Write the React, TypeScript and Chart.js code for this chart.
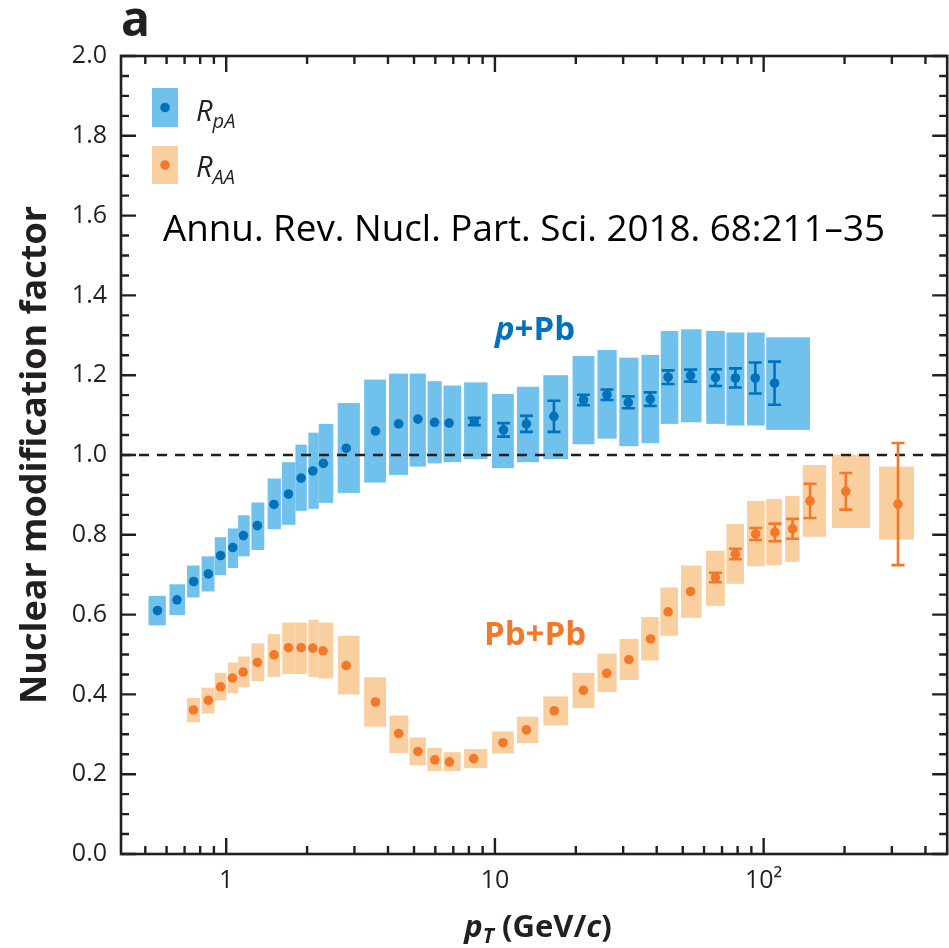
import React, { useEffect, useRef } from 'react';
import { Chart, registerables } from 'chart.js';

Chart.register(...registerables);

// ---------------- data: p+Pb  (R_pA) ----------------
const pPbPt = [0.555, 0.656, 0.757, 0.858, 0.953, 1.058, 1.159, 1.306, 1.506, 1.705, 1.900, 2.100, 2.299, 2.797, 3.594, 4.384, 5.168, 5.962, 6.754, 8.381, 10.76, 13.09, 16.58, 21.36, 26.12, 31.36, 37.84, 44.10, 53.46, 66.19, 78.50, 93.08, 109.8];
const pPbBinLo = [0.514, 0.615, 0.715, 0.810, 0.907, 1.014, 1.108, 1.241, 1.426, 1.612, 1.810, 2.022, 2.211, 2.599, 3.261, 4.036, 4.816, 5.615, 6.434, 7.678, 9.748, 12.07, 15.14, 19.45, 24.07, 29.04, 35.12, 41.40, 49.27, 61.14, 72.68, 86.74, 102.2];
const pPbBinHi = [0.596, 0.703, 0.796, 0.905, 1.000, 1.108, 1.223, 1.386, 1.598, 1.810, 1.995, 2.211, 2.503, 3.144, 3.934, 4.747, 5.534, 6.341, 7.484, 9.389, 11.76, 14.59, 18.73, 23.46, 28.38, 34.22, 40.84, 48.15, 58.73, 71.70, 84.77, 100.9, 148.8];
const pPbValue = [0.610, 0.637, 0.683, 0.702, 0.748, 0.768, 0.798, 0.823, 0.876, 0.902, 0.942, 0.960, 0.979, 1.017, 1.060, 1.078, 1.090, 1.082, 1.080, 1.084, 1.063, 1.078, 1.097, 1.138, 1.151, 1.132, 1.140, 1.195, 1.199, 1.194, 1.193, 1.193, 1.180];
const pPbSystHi = [0.647, 0.676, 0.723, 0.746, 0.794, 0.816, 0.849, 0.881, 0.941, 0.982, 1.026, 1.056, 1.078, 1.130, 1.189, 1.204, 1.204, 1.185, 1.174, 1.182, 1.153, 1.171, 1.200, 1.248, 1.263, 1.244, 1.251, 1.311, 1.315, 1.311, 1.307, 1.307, 1.295];
const pPbSystLo = [0.573, 0.599, 0.643, 0.658, 0.699, 0.717, 0.746, 0.762, 0.814, 0.825, 0.860, 0.865, 0.880, 0.905, 0.931, 0.950, 0.971, 0.979, 0.982, 0.990, 0.967, 0.982, 0.990, 1.027, 1.041, 1.022, 1.030, 1.078, 1.082, 1.078, 1.074, 1.074, 1.063];
const pPbStat = [0, 0, 0, 0, 0, 0, 0, 0, 0, 0, 0, 0, 0, 0, 0, 0, 0, 0, 0, 0.009, 0.017, 0.020, 0.039, 0.013, 0.013, 0.015, 0.017, 0.017, 0.015, 0.021, 0.024, 0.039, 0.054];

// ---------------- data: Pb+Pb (R_AA) ----------------
const PbPbPt = [0.755, 0.858, 0.953, 1.055, 1.156, 1.306, 1.506, 1.705, 1.900, 2.100, 2.293, 2.797, 3.594, 4.384, 5.168, 5.977, 6.771, 8.331, 10.71, 13.09, 16.62, 21.36, 26.06, 31.52, 37.93, 44.10, 53.46, 66.19, 78.50, 93.40, 110.1, 128.1, 148.8, 202.2, 316.2];
const PbPbBinLo = [0.715, 0.810, 0.907, 1.014, 1.108, 1.241, 1.426, 1.616, 1.810, 2.022, 2.203, 2.606, 3.261, 4.050, 4.816, 5.600, 6.434, 7.678, 9.748, 12.07, 15.14, 19.45, 24.07, 29.12, 35.03, 41.29, 49.27, 60.99, 72.68, 86.74, 102.2, 120.2, 139.8, 179.6, 268.9];
const PbPbBinHi = [0.798, 0.905, 1.003, 1.108, 1.223, 1.386, 1.589, 1.810, 1.995, 2.203, 2.503, 3.136, 3.934, 4.762, 5.534, 6.341, 7.458, 9.365, 11.76, 14.51, 18.73, 23.46, 28.38, 34.22, 40.70, 48.03, 58.73, 71.70, 84.53, 100.9, 116.9, 135.9, 170.6, 249.0, 362.5];
const PbPbValue = [0.361, 0.385, 0.419, 0.441, 0.456, 0.480, 0.499, 0.517, 0.517, 0.516, 0.509, 0.472, 0.381, 0.302, 0.257, 0.236, 0.231, 0.239, 0.279, 0.311, 0.359, 0.410, 0.453, 0.487, 0.539, 0.607, 0.658, 0.693, 0.752, 0.802, 0.806, 0.815, 0.885, 0.909, 0.877];
const PbPbSystHi = [0.391, 0.417, 0.454, 0.480, 0.495, 0.528, 0.551, 0.580, 0.580, 0.587, 0.580, 0.547, 0.443, 0.347, 0.292, 0.266, 0.255, 0.263, 0.307, 0.344, 0.395, 0.454, 0.502, 0.539, 0.594, 0.668, 0.723, 0.760, 0.827, 0.885, 0.890, 0.897, 0.975, 1.001, 0.971];
const PbPbSystLo = [0.330, 0.352, 0.385, 0.403, 0.418, 0.433, 0.444, 0.451, 0.451, 0.444, 0.440, 0.400, 0.319, 0.253, 0.222, 0.208, 0.208, 0.215, 0.252, 0.278, 0.322, 0.366, 0.406, 0.436, 0.485, 0.547, 0.592, 0.622, 0.677, 0.721, 0.724, 0.732, 0.795, 0.817, 0.788];
const PbPbStat = [0, 0, 0, 0, 0, 0, 0, 0, 0, 0, 0, 0, 0, 0, 0, 0, 0, 0, 0, 0, 0, 0, 0, 0, 0, 0, 0, 0.012, 0.013, 0.015, 0.022, 0.025, 0.043, 0.046, 0.153];

// ---------------- axes ----------------
const xTickValues = [1, 10, 100];
const xTickLabels = ['1', '10', '10²'];
const xMinorTicks = [0.5, 0.6, 0.7, 0.8, 0.9, 2, 3, 4, 5, 6, 7, 8, 9, 20, 30, 40, 50, 60, 70, 80, 90, 200, 300, 400];
const yMajorStep = 0.2;
const yMinorStep = 0.05;
const X_MIN = 0.406;
const X_MAX = 482;
const Y_MIN = 0;
const Y_MAX = 2;
const REF_LINE = 1.0;

// ---------------- styles ----------------
const FONT = '"Open Sans", "Noto Sans", sans-serif';
const INK = '#231f20';
const BLUE_BOX = 'rgb(112,193,235)';
const BLUE_DOT = 'rgb(0,114,188)';
const ORANGE_BOX = 'rgb(250,207,160)';
const ORANGE_DOT = 'rgb(242,121,42)';

type Run = { t: string; f: string; dy?: number };

function drawRuns(ctx: CanvasRenderingContext2D, runs: Run[], x: number, y: number, align: 'left' | 'center') {
  let w = 0;
  for (const r of runs) {
    ctx.font = r.f;
    w += ctx.measureText(r.t).width;
  }
  let cx = align === 'center' ? x - w / 2 : x;
  for (const r of runs) {
    ctx.font = r.f;
    ctx.fillText(r.t, cx, y + (r.dy || 0));
    cx += ctx.measureText(r.t).width;
  }
}

const figurePlugin = {
  id: 'figure',
  beforeDatasetsDraw(chart: any) {
    const { ctx, chartArea: a, scales } = chart;
    const xs = scales.x;
    const ys = scales.y;
    ctx.save();
    ctx.beginPath();
    ctx.rect(a.left, a.top, a.right - a.left, a.bottom - a.top);
    ctx.clip();

    const drawBoxes = (lo: number[], hi: number[], top: number[], bot: number[], color: string) => {
      ctx.fillStyle = color;
      for (let i = 0; i < lo.length; i++) {
        const x0 = xs.getPixelForValue(lo[i]);
        const x1 = xs.getPixelForValue(hi[i]);
        const y0 = ys.getPixelForValue(top[i]);
        const y1 = ys.getPixelForValue(bot[i]);
        ctx.fillRect(x0, y0, x1 - x0, y1 - y0);
      }
    };
    drawBoxes(PbPbBinLo, PbPbBinHi, PbPbSystHi, PbPbSystLo, ORANGE_BOX);
    drawBoxes(pPbBinLo, pPbBinHi, pPbSystHi, pPbSystLo, BLUE_BOX);

    // reference line
    ctx.strokeStyle = INK;
    ctx.lineWidth = 2.6;
    ctx.setLineDash([10, 8]);
    const yr = ys.getPixelForValue(REF_LINE);
    ctx.beginPath();
    ctx.moveTo(a.left, yr);
    ctx.lineTo(a.right, yr);
    ctx.stroke();
    ctx.setLineDash([]);

    const drawErr = (pt: number[], val: number[], err: number[], color: string) => {
      ctx.strokeStyle = color;
      ctx.lineWidth = 2.6;
      for (let i = 0; i < pt.length; i++) {
        if (!err[i]) continue;
        const px = xs.getPixelForValue(pt[i]);
        const yt = ys.getPixelForValue(val[i] + err[i]);
        const yb = ys.getPixelForValue(val[i] - err[i]);
        ctx.beginPath();
        ctx.moveTo(px, yt);
        ctx.lineTo(px, yb);
        ctx.moveTo(px - 6.5, yt);
        ctx.lineTo(px + 6.5, yt);
        ctx.moveTo(px - 6.5, yb);
        ctx.lineTo(px + 6.5, yb);
        ctx.stroke();
      }
    };
    drawErr(PbPbPt, PbPbValue, PbPbStat, ORANGE_DOT);
    drawErr(pPbPt, pPbValue, pPbStat, BLUE_DOT);
    ctx.restore();
  },
  afterDraw(chart: any) {
    const { ctx, chartArea: a, scales } = chart;
    const xs = scales.x;
    const ys = scales.y;
    ctx.save();
    ctx.strokeStyle = INK;
    ctx.lineWidth = 2.6;
    ctx.strokeRect(a.left, a.top, a.right - a.left, a.bottom - a.top);

    // ticks (inward, all four sides)
    ctx.lineWidth = 2.4;
    ctx.beginPath();
    for (let v = Y_MIN; v <= Y_MAX + 1e-9; v += yMinorStep) {
      const isMajor = Math.abs(v / yMajorStep - Math.round(v / yMajorStep)) < 1e-6;
      const len = isMajor ? 15 : 8;
      const py = ys.getPixelForValue(v);
      ctx.moveTo(a.left, py);
      ctx.lineTo(a.left + len, py);
      ctx.moveTo(a.right, py);
      ctx.lineTo(a.right - len, py);
    }
    const xt = [...xTickValues.map((v) => [v, 16]), ...xMinorTicks.map((v) => [v, 8])];
    for (const [v, len] of xt) {
      const px = xs.getPixelForValue(v);
      ctx.moveTo(px, a.bottom);
      ctx.lineTo(px, a.bottom - len);
      ctx.moveTo(px, a.top);
      ctx.lineTo(px, a.top + len);
    }
    ctx.stroke();

    // panel letter
    ctx.fillStyle = INK;
    ctx.textBaseline = 'alphabetic';
    ctx.font = `bold 48px ${FONT}`;
    ctx.fillText('a', 121, 36);

    // y title
    ctx.save();
    ctx.translate(46, 455);
    ctx.rotate(-Math.PI / 2);
    ctx.font = `bold 36px ${FONT}`;
    ctx.textAlign = 'center';
    ctx.fillText('Nuclear modification factor', 0, 0);
    ctx.restore();

    // x title
    ctx.textAlign = 'left';
    drawRuns(
      ctx,
      [
        { t: 'p', f: `italic bold 31px ${FONT}` },
        { t: 'T', f: `italic bold 21px ${FONT}`, dy: 6 },
        { t: ' (GeV/', f: `bold 31px ${FONT}` },
        { t: 'c', f: `italic bold 31px ${FONT}` },
        { t: ')', f: `bold 31px ${FONT}` },
      ],
      538,
      937,
      'center'
    );

    // legend
    const legendItems = [
      { box: BLUE_BOX, dot: BLUE_DOT, sub: 'pA', top: 88, bottom: 127, base: 121 },
      { box: ORANGE_BOX, dot: ORANGE_DOT, sub: 'AA', top: 146, bottom: 184, base: 177 },
    ];
    for (const it of legendItems) {
      ctx.fillStyle = it.box;
      ctx.fillRect(152, it.top, 26, it.bottom - it.top);
      ctx.fillStyle = it.dot;
      ctx.beginPath();
      ctx.arc(165, (it.top + it.bottom) / 2, 4.8, 0, Math.PI * 2);
      ctx.fill();
      ctx.fillStyle = INK;
      drawRuns(
        ctx,
        [
          { t: 'R', f: `italic 29px ${FONT}` },
          { t: it.sub, f: `italic 20px ${FONT}`, dy: 7 },
        ],
        196,
        it.base,
        'left'
      );
    }

    // citation
    ctx.fillStyle = '#000';
    const cite = 'Annu. Rev. Nucl. Part. Sci. 2018. 68:211–35';
    ctx.font = `31px ${FONT}`;
    const w = ctx.measureText(cite).width;
    const size = 31 * (722 / w);
    ctx.font = `${size.toFixed(2)}px ${FONT}`;
    ctx.fillText(cite, 163, 241);

    // series labels
    ctx.fillStyle = BLUE_DOT;
    drawRuns(
      ctx,
      [
        { t: 'p', f: `italic bold 33px ${FONT}` },
        { t: '+Pb', f: `bold 33px ${FONT}` },
      ],
      535,
      340,
      'center'
    );
    ctx.fillStyle = ORANGE_DOT;
    drawRuns(ctx, [{ t: 'Pb+Pb', f: `bold 33px ${FONT}` }], 535, 645, 'center');
    ctx.restore();
  },
};

export default function App() {
  const ref = useRef<HTMLCanvasElement>(null);
  useEffect(() => {
    const canvas = ref.current;
    if (!canvas) return;
    const chart = new Chart(canvas, {
      type: 'scatter',
      data: {
        datasets: [
          {
            label: 'R_AA',
            data: PbPbPt.map((x, i) => ({ x, y: PbPbValue[i] })),
            pointRadius: 4.8,
            pointBackgroundColor: ORANGE_DOT,
            pointBorderWidth: 0,
            showLine: false,
          },
          {
            label: 'R_pA',
            data: pPbPt.map((x, i) => ({ x, y: pPbValue[i] })),
            pointRadius: 4.8,
            pointBackgroundColor: BLUE_DOT,
            pointBorderWidth: 0,
            showLine: false,
          },
        ],
      },
      options: {
        responsive: false,
        maintainAspectRatio: false,
        animation: false,
        layout: { padding: { top: 56, right: 1, left: 0, bottom: 0 } },
        plugins: { legend: { display: false }, tooltip: { enabled: false }, title: { display: false } },
        scales: {
          x: {
            type: 'logarithmic',
            min: X_MIN,
            max: X_MAX,
            grid: { display: false, drawTicks: false },
            border: { display: false },
            afterFit: (s: any) => {
              s.height = 94;
            },
            afterBuildTicks: (s: any) => {
              s.ticks = xTickValues.map((v) => ({ value: v }));
            },
            ticks: {
              autoSkip: false,
              maxRotation: 0,
              padding: 12,
              color: INK,
              font: { family: FONT, size: 25 },
              callback: (v: any) => {
                const i = xTickValues.indexOf(Number(v));
                return i >= 0 ? xTickLabels[i] : '';
              },
            },
          },
          y: {
            type: 'linear',
            min: Y_MIN,
            max: Y_MAX,
            grid: { display: false, drawTicks: false },
            border: { display: false },
            afterFit: (s: any) => {
              s.width = 121;
            },
            ticks: {
              stepSize: yMajorStep,
              padding: 14,
              color: INK,
              font: { family: FONT, size: 25 },
              callback: (v: any) => Number(v).toFixed(1),
            },
          },
        },
      },
      plugins: [figurePlugin],
    } as any);
    return () => chart.destroy();
  }, []);
  return (
    <div style={{ position: 'fixed', left: 0, top: 0, width: 949, height: 948, overflow: 'hidden', background: '#fff' }}>
      <canvas ref={ref} width={952} height={948} style={{ display: 'block' }} />
    </div>
  );
}
